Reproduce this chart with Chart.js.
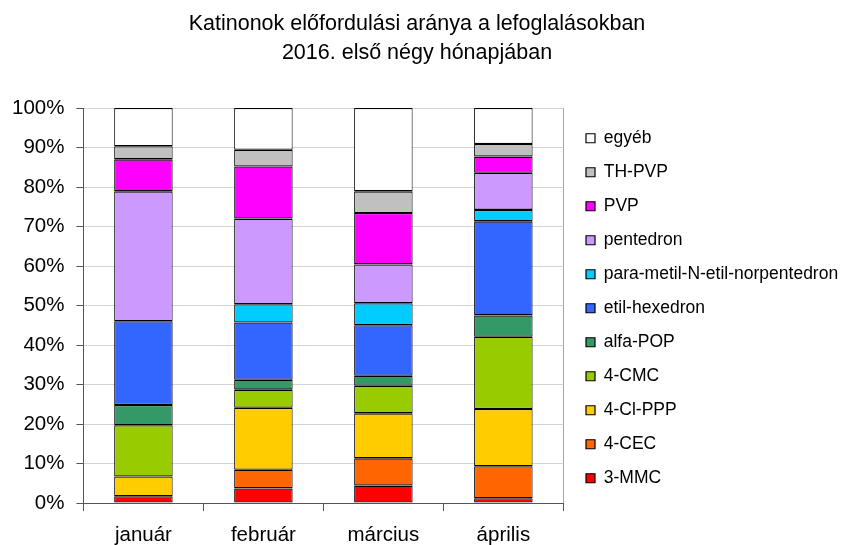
<!DOCTYPE html>
<html><head><meta charset="utf-8">
<script src="https://cdn.jsdelivr.net/npm/chart.js@4.4.1/dist/chart.umd.min.js"></script>
<style>html,body{margin:0;padding:0;background:#fff}canvas{display:block}</style>
</head><body>
<canvas id="c" width="844" height="545"></canvas>
<script>
const titleLines = ['Katinonok előfordulási aránya a lefoglalásokban', '2016. első négy hónapjában'];
const categories = ['január', 'február', 'március', 'április'];

// percentage shares, bottom of stack to top
const mmc3      = [1.7, 3.7, 4.4, 1.2];
const cec4      = [null, 4.7, 6.9, 8.1];
const clppp4    = [5.0, 15.7, 11.4, 14.5];
const cmc4      = [13.0, 4.6, 7.0, 18.3];
const alfaPop   = [5.1, 2.5, 2.5, 5.4];
const etilHex   = [21.2, 14.5, 12.8, 23.8];
const paraMetil = [null, 4.6, 5.6, 2.9];
const pentedron = [32.9, 21.7, 9.8, 9.4];
const pvp       = [8.1, 13.2, 13.0, 4.1];
const thPvp     = [3.3, 4.2, 5.5, 3.2];
const egyeb     = [9.7, 10.6, 21.1, 9.1];

const seriesNames  = ['3-MMC', '4-CEC', '4-Cl-PPP', '4-CMC', 'alfa-POP', 'etil-hexedron',
                      'para-metil-N-etil-norpentedron', 'pentedron', 'PVP', 'TH-PVP', 'egyéb'];
const seriesValues = [mmc3, cec4, clppp4, cmc4, alfaPop, etilHex, paraMetil, pentedron, pvp, thPvp, egyeb];
const seriesColors = ['#FF0000', '#FF6600', '#FFCC00', '#99CC00', '#339966', '#3366FF',
                      '#00CCFF', '#CC99FF', '#FF00FF', '#C0C0C0', '#FFFFFF'];

const FONT = '"Liberation Sans", Arial, sans-serif';
const LEGEND_PAD = 16.5;

const titlePlugin = {
  id: 'twoLineTitle',
  afterDraw(chart) {
    const ctx = chart.ctx;
    ctx.save();
    ctx.fillStyle = '#000';
    ctx.font = '21.5px ' + FONT;
    ctx.textAlign = 'center';
    ctx.textBaseline = 'alphabetic';
    ctx.fillText(titleLines[0], 417, 30);
    ctx.fillText(titleLines[1], 417, 58.5);
    ctx.restore();
  }
};

const legendPlace = {
  id: 'legendPlace',
  afterLayout(chart) {
    const lg = chart.legend;
    const dx = 586 - (lg.left + LEGEND_PAD);
    lg.left += dx; lg.right += dx + 10;
    lg.width = lg.right - lg.left;
    const h = lg.height;
    lg.top = 113; lg.bottom = 113 + h;
  }
};

new Chart(document.getElementById('c'), {
  type: 'bar',
  data: {
    labels: categories,
    datasets: seriesNames.map((n, i) => ({
      label: n,
      data: seriesValues[i],
      backgroundColor: seriesColors[i],
      borderColor: '#000',
      borderWidth: { top: 1.3, bottom: 1.3, left: 1, right: 1 },
      borderSkipped: false,
      barPercentage: 0.4875,
      categoryPercentage: 1.0
    }))
  },
  options: {
    responsive: false,
    animation: false,
    devicePixelRatio: 1,
    layout: { padding: { top: 108, left: 0, right: 2, bottom: -14.6 } },
    plugins: {
      title: { display: false },
      tooltip: { enabled: false },
      legend: {
        position: 'right',
        align: 'start',
        reverse: true,
        maxWidth: 281,
        labels: {
          boxWidth: 9,
          boxHeight: 9,
          padding: LEGEND_PAD,
          color: '#000',
          font: { family: FONT, size: 17.5 },
          generateLabels: (chart) => Chart.defaults.plugins.legend.labels.generateLabels(chart)
            .map((it) => Object.assign(it, { lineWidth: 1.2 }))
        }
      }
    },
    scales: {
      x: {
        stacked: true,
        offset: true,
        grid: {
          offset: true,
          drawOnChartArea: true,
          color: (c) => (c.index === undefined ? '#a6a6a6' : 'rgba(0,0,0,0)'),
          tickColor: '#555',
          tickLength: 8
        },
        border: { color: '#555', width: 1 },
        ticks: { color: '#000', padding: 12, font: { family: FONT, size: 20.5 } }
      },
      y: {
        stacked: true,
        min: 0,
        max: 100,
        grid: { color: '#d4d4d4', tickColor: '#555', tickLength: 7 },
        border: { color: '#555', width: 1 },
        ticks: {
          stepSize: 10,
          padding: 12,
          color: '#000',
          font: { family: FONT, size: 20.5 },
          callback: (v) => v + '%'
        }
      }
    }
  },
  plugins: [titlePlugin, legendPlace]
});
</script>
</body></html>
